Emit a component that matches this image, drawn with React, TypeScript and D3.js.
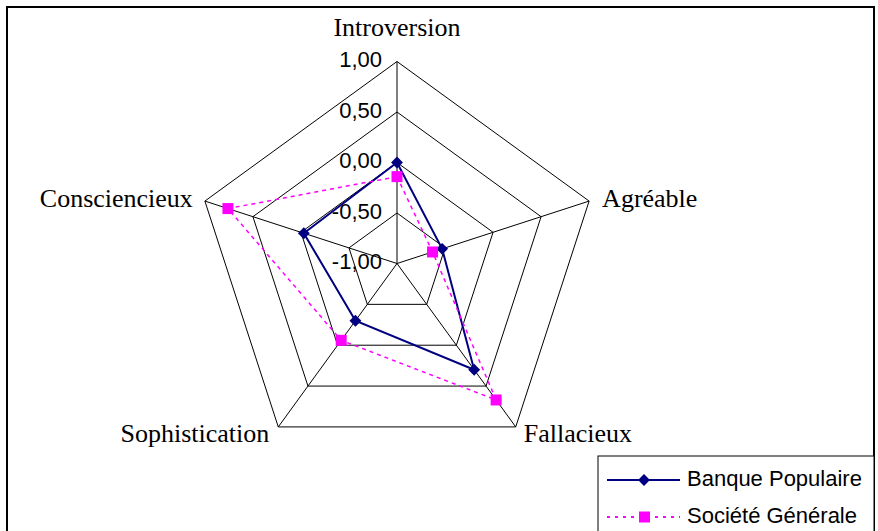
import * as d3 from "d3";

const axes = ["Introversion", "Agréable", "Fallacieux", "Sophistication", "Consciencieux"];
const banquePopulaire = [0.0, -0.53, 0.3, -0.3, -0.03];
const societeGenerale = [-0.14, -0.63, 0.67, -0.06, 0.76];
const ticks = [-1, -0.5, 0, 0.5, 1];
const tickLabels = ["-1,00", "-0,50", "0,00", "0,50", "1,00"];

const W = 878;
const H = 531;
const cx = 397;
const cy = 263.5;
const R = 202;

export default function App() {
  const r = d3.scaleLinear().domain([-1, 1]).range([0, R]);
  const angle = d3
    .scaleLinear()
    .domain([0, axes.length])
    .range([0, 2 * Math.PI]);

  const pt = (i: number, v: number): [number, number] => {
    const a = angle(i);
    return [cx + r(v) * Math.sin(a), cy - r(v) * Math.cos(a)];
  };

  const ring = (v: number) =>
    axes.map((_, i) => pt(i, v).join(",")).join(" ");

  const radial = d3
    .lineRadial<number>()
    .angle((_, i) => angle(i))
    .radius((d) => r(d))
    .curve(d3.curveLinearClosed);

  // label placement per axis
  const labelPos = [
    { dx: 0, dy: -31, anchor: "middle" },
    { dx: 13, dy: 0, anchor: "start" },
    { dx: 8, dy: 6, anchor: "start" },
    { dx: -9, dy: 6, anchor: "end" },
    { dx: -12, dy: 0, anchor: "end" },
  ];

  const diamond = d3.symbol(d3.symbolDiamond2, 90)()!;

  return (
    <svg width={W} height={H} style={{ display: "block", position: "absolute", left: 0, top: 0 }}>
      <rect x={0} y={0} width={W} height={H} fill="#fff" />
      {/* chart frame */}
      <rect x={7} y={7} width={867} height={560} fill="none" stroke="#000" strokeWidth={2} />

      {/* grid rings */}
      {ticks.slice(1).map((t) => (
        <polygon key={t} points={ring(t)} fill="none" stroke="#000" strokeWidth={1} />
      ))}
      {/* spokes */}
      {axes.map((_, i) => {
        const [x, y] = pt(i, 1);
        return <line key={i} x1={cx} y1={cy} x2={x} y2={y} stroke="#000" strokeWidth={1} />;
      })}

      {/* tick labels */}
      {ticks.map((t, i) => (
        <text
          key={t}
          x={cx - 15}
          y={cy - r(t)}
          textAnchor="end"
          dominantBaseline="middle"
          fontFamily="Liberation Sans, Arial, sans-serif"
          fontSize={22}
          fill="#000"
        >
          {tickLabels[i]}
        </text>
      ))}

      {/* axis labels */}
      {axes.map((a, i) => {
        const [x, y] = pt(i, 1);
        const p = labelPos[i];
        return (
          <text
            key={a}
            x={x + p.dx}
            y={y + p.dy}
            textAnchor={p.anchor}
            dominantBaseline={i >= 2 && i <= 3 ? "auto" : "middle"}
            dy={i >= 2 && i <= 3 ? 9 : 0}
            fontFamily="Liberation Serif, Times New Roman, serif"
            fontSize={26}
            fill="#000"
          >
            {a}
          </text>
        );
      })}

      {/* series */}
      <g transform={`translate(${cx},${cy})`}>
        <path d={radial(banquePopulaire) ?? ""} fill="none" stroke="#000080" strokeWidth={2} />
        <path d={radial(societeGenerale) ?? ""} fill="none" stroke="#ff00ff" strokeWidth={1.5} strokeDasharray="4 4" />
      </g>
      {banquePopulaire.map((v, i) => {
        const [x, y] = pt(i, v);
        return <path key={i} d={diamond} transform={`translate(${x},${y})`} fill="#000080" />;
      })}
      {societeGenerale.map((v, i) => {
        const [x, y] = pt(i, v);
        return <rect key={i} x={x - 5.5} y={y - 5.5} width={11} height={11} fill="#ff00ff" />;
      })}

      {/* legend */}
      <rect x={598} y={456} width={276} height={100} fill="#fff" stroke="#000" strokeWidth={1} />
      <line x1={607} x2={680} y1={480} y2={480} stroke="#000080" strokeWidth={2} />
      <path d={diamond} transform="translate(644,480)" fill="#000080" />
      <text x={687} y={480} dominantBaseline="middle" fontFamily="Liberation Sans, Arial, sans-serif" fontSize={22}>
        Banque Populaire
      </text>
      <line x1={607} x2={680} y1={517} y2={517} stroke="#ff00ff" strokeWidth={2} strokeDasharray="3 5" />
      <rect x={639} y={511.5} width={11} height={11} fill="#ff00ff" />
      <text x={687} y={517} dominantBaseline="middle" fontFamily="Liberation Sans, Arial, sans-serif" fontSize={22}>
        Société Générale
      </text>
    </svg>
  );
}
